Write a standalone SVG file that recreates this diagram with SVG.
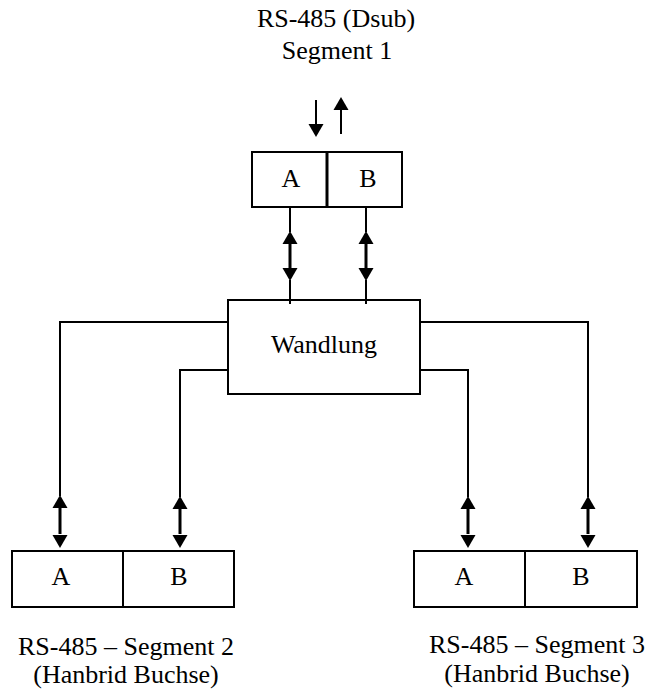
<svg xmlns="http://www.w3.org/2000/svg" xmlns:xlink="http://www.w3.org/1999/xlink" width="650" height="693" viewBox="0 0 650 693">
<style>
  .box { fill: #fff; stroke: #000; stroke-width: 2; }
  .div { stroke: #000; stroke-width: 2; }
  .wire { fill: none; stroke: #000; stroke-width: 2; }
  .shaft { stroke: #000; stroke-width: 3; }
  .head { fill: #000; stroke: none; }
  .t { font-family: 'Liberation Serif', 'DejaVu Serif', serif; font-size: 26px; fill: #000; text-anchor: middle; }
</style>
<defs>
  <path id="up" class="head" d="M0,0 L-7.5,13 L7.5,13 Z"/>
  <path id="down" class="head" d="M0,0 L-7.5,-13 L7.5,-13 Z"/>
</defs>

<g id="title">
  <text class="t" font-family="Liberation Serif, serif" x="336" y="27">RS-485 (Dsub)</text>
  <text class="t" font-family="Liberation Serif, serif" x="337" y="59">Segment 1</text>
</g>

<g id="top-io">
  <line class="wire" x1="316" y1="100" x2="316" y2="124"/>
  <use xlink:href="#down" x="316" y="137"/>
  <line class="wire" x1="341" y1="110" x2="341" y2="134"/>
  <use xlink:href="#up" x="341" y="97"/>
</g>

<g id="seg1">
  <rect class="box" x="252" y="152" width="150" height="55"/>
  <line class="div" x1="327" y1="152" x2="327" y2="207" style="stroke-width:3"/>
  <text class="t" font-family="Liberation Serif, serif" x="291" y="187">A</text>
  <text class="t" font-family="Liberation Serif, serif" x="368" y="187">B</text>
</g>

<g id="wandlung">
  <rect class="box" x="228" y="300" width="192" height="94"/>
  <text class="t" font-family="Liberation Serif, serif" x="324" y="353">Wandlung</text>
</g>

<g id="seg2">
  <rect class="box" x="12" y="551" width="222" height="56"/>
  <line class="div" x1="123" y1="551" x2="123" y2="607"/>
  <text class="t" font-family="Liberation Serif, serif" x="61" y="585">A</text>
  <text class="t" font-family="Liberation Serif, serif" x="179" y="585">B</text>
  <text class="t" font-family="Liberation Serif, serif" x="126" y="655">RS-485 – Segment 2</text>
  <text class="t" font-family="Liberation Serif, serif" x="126" y="683">(Hanbrid Buchse)</text>
</g>

<g id="seg3">
  <rect class="box" x="414" y="551" width="223" height="56"/>
  <line class="div" x1="525" y1="551" x2="525" y2="607"/>
  <text class="t" font-family="Liberation Serif, serif" x="464" y="585">A</text>
  <text class="t" font-family="Liberation Serif, serif" x="581" y="585">B</text>
  <text class="t" font-family="Liberation Serif, serif" x="537" y="653">RS-485 – Segment 3</text>
  <text class="t" font-family="Liberation Serif, serif" x="537" y="682">(Hanbrid Buchse)</text>
</g>

<g id="connectors">
  <line class="wire" x1="290" y1="207" x2="290" y2="232"/>
  <line class="shaft" x1="290" y1="243" x2="290" y2="268"/>
  <line class="wire" x1="290" y1="280" x2="290" y2="304"/>
  <use xlink:href="#up" x="290" y="231"/>
  <use xlink:href="#down" x="290" y="281"/>

  <line class="wire" x1="366" y1="207" x2="366" y2="232"/>
  <line class="shaft" x1="366" y1="243" x2="366" y2="268"/>
  <line class="wire" x1="366" y1="280" x2="366" y2="304"/>
  <use xlink:href="#up" x="366" y="231"/>
  <use xlink:href="#down" x="366" y="281"/>

  <polyline class="wire" points="228,322 60,322 60,496"/>
  <line class="shaft" x1="60" y1="508" x2="60" y2="534"/>
  <use xlink:href="#up" x="60" y="495"/>
  <use xlink:href="#down" x="60" y="548"/>

  <polyline class="wire" points="228,370 180,370 180,497"/>
  <line class="shaft" x1="180" y1="508" x2="180" y2="534"/>
  <use xlink:href="#up" x="180" y="496"/>
  <use xlink:href="#down" x="180" y="548"/>

  <polyline class="wire" points="420,370 468,370 468,497"/>
  <line class="shaft" x1="468" y1="508" x2="468" y2="534"/>
  <use xlink:href="#up" x="468" y="496"/>
  <use xlink:href="#down" x="468" y="548"/>

  <polyline class="wire" points="420,322 588,322 588,497"/>
  <line class="shaft" x1="588" y1="508" x2="588" y2="534"/>
  <use xlink:href="#up" x="588" y="496"/>
  <use xlink:href="#down" x="588" y="548"/>
</g>
</svg>
